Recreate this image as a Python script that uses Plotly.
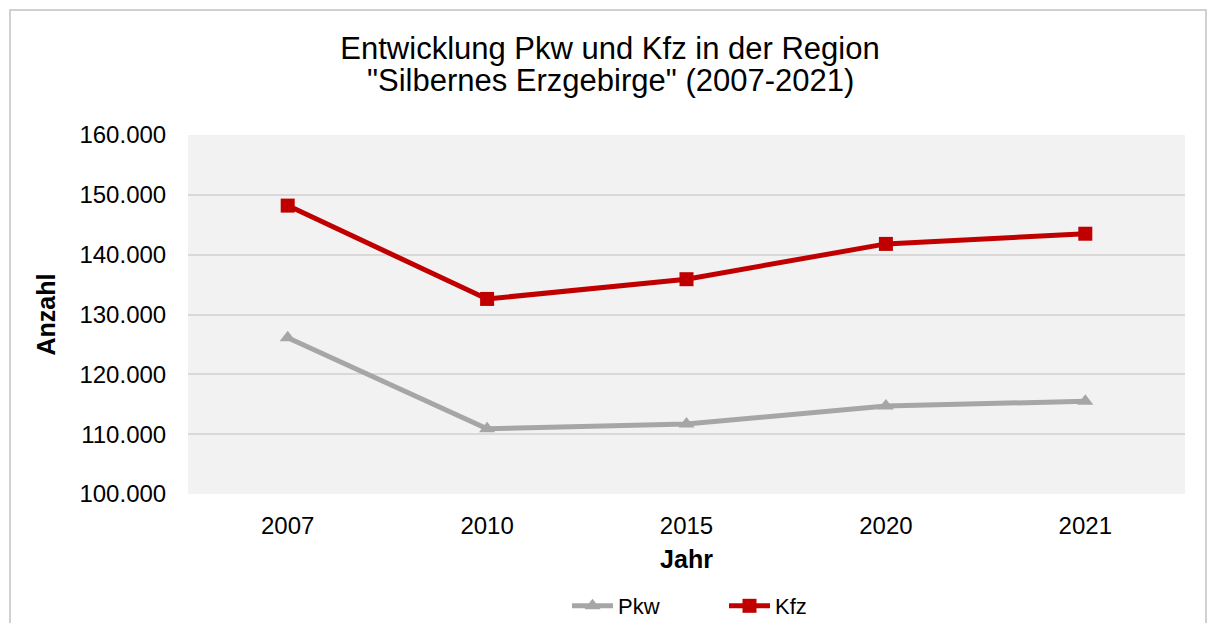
import plotly.graph_objects as go

years = ["2007", "2010", "2015", "2020", "2021"]
pkw = [126100, 110900, 111700, 114700, 115500]
kfz = [148200, 132600, 135900, 141800, 143500]
y_ticks = [100000, 110000, 120000, 130000, 140000, 150000, 160000]
title_lines = ["Entwicklung Pkw und Kfz in der Region", "\"Silbernes Erzgebirge\" (2007-2021)"]

FONT = "Liberation Sans, Arial, sans-serif"
W, H = 1208, 623
L, R, T, B = 188, 23, 135, 129
PW, PH = W - L - R, H - T - B

fig = go.Figure()
fig.add_trace(go.Scatter(
    x=years, y=pkw, name="Pkw", mode="lines+markers",
    line=dict(color="#a6a6a6", width=5),
    marker=dict(symbol="triangle-up", size=14, color="#a6a6a6"),
))
fig.add_trace(go.Scatter(
    x=years, y=kfz, name="Kfz", mode="lines+markers",
    line=dict(color="#c00000", width=5),
    marker=dict(symbol="square", size=14, color="#c00000"),
))

fig.update_layout(
    width=W, height=H,
    margin=dict(l=L, r=R, t=T, b=B),
    paper_bgcolor="white",
    plot_bgcolor="#f2f2f2",
    separators=",.",
    font=dict(family=FONT, size=24, color="#000000"),
    title=dict(
        text=title_lines[0],
        x=610 / W, xanchor="center", y=1 - 48 / H, yanchor="middle",
        font=dict(family=FONT, size=31, color="#000000"),
    ),
    annotations=[dict(
        text=title_lines[1], xref="paper", yref="paper",
        x=(610 - L) / PW, xanchor="center", y=(T + PH - 80) / PH, yanchor="middle",
        showarrow=False, font=dict(family=FONT, size=31, color="#000000"),
    )],
    xaxis=dict(
        type="category", range=[-0.5, 4.5],
        title=dict(text="<b>Jahr</b>", font=dict(size=25), standoff=12),
        showgrid=False, zeroline=False,
        ticks="outside", ticklen=10, tickcolor="rgba(0,0,0,0)",
        tickfont=dict(size=24),
    ),
    yaxis=dict(
        range=[100000, 160000],
        tickvals=y_ticks,
        tickformat=",d",
        showgrid=True, gridcolor="#d9d9d9", gridwidth=2,
        zeroline=False,
        ticks="outside", ticklen=16, tickcolor="rgba(0,0,0,0)",
        title=dict(text="<b>Anzahl</b>", font=dict(size=25), standoff=16),
        tickfont=dict(size=24),
    ),
    legend=dict(
        orientation="h", xref="container", yref="container",
        x=567 / W, xanchor="left", y=1 - 606 / H, yanchor="middle",
        font=dict(size=22), entrywidth=101, entrywidthmode="pixels",
        itemwidth=41,
        traceorder="normal", bgcolor="rgba(0,0,0,0)",
    ),
    shapes=[dict(
        type="rect", xref="paper", yref="paper",
        x0=(10 - L) / PW, x1=(1206 - L) / PW,
        y0=(T + PH - 640) / PH, y1=(T + PH - 10) / PH,
        line=dict(color="#d0d0d0", width=2), fillcolor="rgba(0,0,0,0)", layer="below",
    )],
)

html = fig.to_html(full_html=True, include_plotlyjs=True, config={"displayModeBar": False})
html = html.replace("<head>", "<head><style>html,body{margin:0;padding:0;overflow:hidden;}</style>", 1)
with open("out.html", "w", encoding="utf-8") as f:
    f.write(html)
